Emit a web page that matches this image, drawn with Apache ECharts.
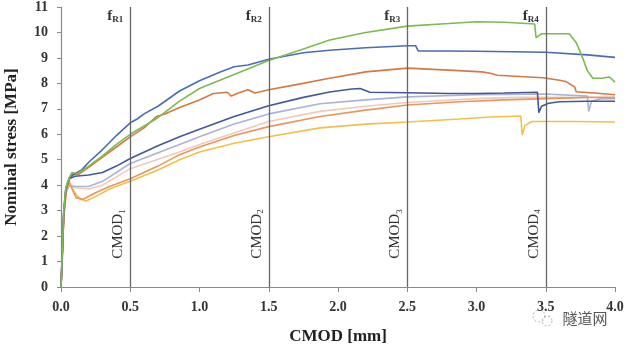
<!DOCTYPE html>
<html>
<head>
<meta charset="utf-8">
<script src="https://cdn.jsdelivr.net/npm/echarts@6/dist/echarts.min.js"></script>
<style>html,body{margin:0;padding:0;background:#fff}#c{width:627px;height:345px}</style>
</head>
<body>
<div id="c"></div>
<script>
// ---- data (CMOD [mm], nominal stress [MPa]) ----
const xTicks = [0, 0.5, 1.0, 1.5, 2.0, 2.5, 3.0, 3.5, 4.0];
const yTicks = [0,1,2,3,4,5,6,7,8,9,10,11];
const cmodLines = [0.5, 1.5, 2.5, 3.5];
const cmodNames = ['1', '2', '3', '4'];

const greenCurve = [[0,0],[0.01,1.5],[0.02,3.0],[0.035,3.9],[0.06,4.3],[0.08,4.5],[0.12,4.45],[0.2,4.75],[0.3,5.15],[0.4,5.6],[0.5,6.0],[0.7,6.65],[0.856,7.3],[1.0,7.8],[1.25,8.35],[1.5,8.9],[1.75,9.35],[1.94,9.7],[2.2,10.0],[2.5,10.25],[2.8,10.35],[3.0,10.42],[3.2,10.4],[3.3,10.37],[3.42,10.33],[3.43,9.8],[3.47,9.95],[3.6,9.95],[3.67,9.95],[3.72,9.6],[3.76,9.1],[3.8,8.5],[3.84,8.2],[3.9,8.2],[3.96,8.25],[4.0,8.05]];
const blueTopCurve = [[0,0],[0.01,1.5],[0.02,3.0],[0.035,3.9],[0.06,4.3],[0.1,4.45],[0.15,4.6],[0.2,4.9],[0.3,5.4],[0.4,5.95],[0.5,6.45],[0.55,6.6],[0.6,6.8],[0.7,7.1],[0.856,7.7],[1.0,8.1],[1.15,8.45],[1.25,8.65],[1.35,8.72],[1.5,8.95],[1.75,9.2],[1.94,9.3],[2.2,9.4],[2.5,9.48],[2.56,9.48],[2.58,9.27],[2.8,9.27],[3.0,9.26],[3.5,9.22],[3.8,9.12],[4.0,9.02]];
const orangeCurve = [[0,0],[0.01,1.4],[0.02,2.9],[0.035,3.8],[0.06,4.25],[0.08,4.45],[0.12,4.4],[0.2,4.7],[0.3,5.1],[0.4,5.5],[0.5,5.9],[0.6,6.25],[0.69,6.7],[0.75,6.8],[0.856,7.05],[1.0,7.35],[1.1,7.6],[1.2,7.65],[1.23,7.5],[1.28,7.62],[1.35,7.75],[1.4,7.62],[1.5,7.75],[1.7,7.95],[1.94,8.2],[2.2,8.45],[2.5,8.6],[2.8,8.52],[3.04,8.45],[3.1,8.4],[3.15,8.32],[3.48,8.22],[3.6,8.12],[3.65,8.06],[3.71,7.85],[3.72,7.67],[3.85,7.62],[4.0,7.55]];
const darkBlueCurve = [[0,0],[0.01,1.4],[0.02,2.9],[0.035,3.8],[0.06,4.25],[0.1,4.35],[0.2,4.4],[0.3,4.5],[0.4,4.75],[0.5,5.05],[0.7,5.55],[0.856,5.9],[1.0,6.2],[1.25,6.7],[1.5,7.12],[1.75,7.45],[1.94,7.66],[2.1,7.78],[2.16,7.8],[2.23,7.65],[2.5,7.63],[2.8,7.6],[3.0,7.6],[3.2,7.62],[3.44,7.65],[3.45,6.85],[3.47,7.1],[3.52,7.22],[3.6,7.28],[3.8,7.3],[4.0,7.3]];
const greyBlueCurve = [[0,0],[0.01,1.3],[0.02,2.8],[0.035,3.7],[0.06,4.0],[0.1,3.95],[0.2,3.95],[0.3,4.15],[0.5,4.85],[0.856,5.6],[1.0,5.9],[1.25,6.4],[1.5,6.8],[1.87,7.2],[2.2,7.35],[2.5,7.47],[3.0,7.55],[3.5,7.58],[3.8,7.5],[3.81,6.9],[3.83,7.3],[3.9,7.4],[4.0,7.4]];
const palePinkCurve = [[0,0],[0.01,1.3],[0.02,2.8],[0.035,3.7],[0.06,4.0],[0.1,3.9],[0.2,3.85],[0.3,4.0],[0.5,4.65],[0.856,5.3],[1.0,5.6],[1.5,6.5],[1.87,6.9],[2.2,7.1],[2.5,7.25],[3.0,7.4],[3.3,7.45],[3.5,7.45],[3.7,7.45]];
const salmonCurve = [[0,0],[0.01,1.2],[0.02,2.8],[0.04,3.9],[0.055,4.2],[0.08,3.85],[0.11,3.5],[0.16,3.45],[0.25,3.7],[0.35,3.95],[0.5,4.25],[0.7,4.75],[0.856,5.2],[1.0,5.5],[1.25,5.95],[1.5,6.3],[1.87,6.7],[2.2,6.95],[2.5,7.15],[2.88,7.28],[3.2,7.35],[3.5,7.4],[3.8,7.45],[4.0,7.45]];
const yellowCurve = [[0,0],[0.01,1.2],[0.02,2.7],[0.04,3.8],[0.06,4.1],[0.1,3.7],[0.14,3.45],[0.18,3.38],[0.25,3.55],[0.35,3.85],[0.5,4.15],[0.7,4.6],[0.856,5.0],[1.0,5.3],[1.25,5.65],[1.5,5.9],[1.87,6.25],[2.2,6.4],[2.5,6.48],[2.88,6.6],[3.1,6.68],[3.32,6.72],[3.33,5.97],[3.35,6.35],[3.4,6.5],[3.7,6.5],[4.0,6.48]];

const curves = [
  {data: palePinkCurve, color: '#efc9bb'},
  {data: greyBlueCurve, color: '#aab3d3'},
  {data: yellowCurve, color: '#f2c04a'},
  {data: salmonCurve, color: '#e8955e'},
  {data: darkBlueCurve, color: '#41599b'},
  {data: orangeCurve, color: '#d27a42'},
  {data: blueTopCurve, color: '#4a6cb4'},
  {data: greenCurve, color: '#7cbb50'}
];

const SERIF = '"Liberation Serif","Times New Roman",serif';
const chart = echarts.init(document.getElementById('c'), null, {renderer: 'canvas'});

const series = curves.map(c => ({
  type: 'line', data: c.data, showSymbol: false, symbol: 'none',
  lineStyle: {color: c.color, width: 1.6}, itemStyle: {color: c.color},
  animation: false, z: 3
}));
series.push({
  type: 'line', data: [], silent: true,
  markLine: {
    symbol: 'none', silent: true, animation: false,
    lineStyle: {color: '#666', width: 1.3, type: 'solid'},
    label: {show: false},
    data: cmodLines.map(v => ({xAxis: v}))
  }
});

chart.setOption({
  animation: false,
  grid: {left: 61, right: 12, top: 7, bottom: 58, containLabel: false, outerBoundsMode: 'none'},
  xAxis: {
    type: 'value', min: 0, max: 4, interval: 0.5,
    name: 'CMOD [mm]', nameLocation: 'middle', nameGap: 41,
    nameTextStyle: {fontFamily: SERIF, fontWeight: 'bold', fontSize: 17, color: '#222'},
    axisLine: {lineStyle: {color: '#8a8a8a', width: 1.2}},
    axisTick: {show: true, inside: false, length: 5, lineStyle: {color: '#8a8a8a'}},
    axisLabel: {fontFamily: SERIF, fontWeight: 'bold', fontSize: 14, color: '#333', margin: 13,
      formatter: v => v.toFixed(1)},
    splitLine: {show: false}
  },
  yAxis: {
    type: 'value', min: 0, max: 11, interval: 1,
    name: 'Nominal stress [MPa]', nameLocation: 'middle', nameGap: 41,
    nameTextStyle: {fontFamily: SERIF, fontWeight: 'bold', fontSize: 17, color: '#222'},
    axisLine: {show: true, lineStyle: {color: '#8a8a8a', width: 1.2}},
    axisTick: {show: true, inside: false, length: 4, lineStyle: {color: '#8a8a8a'}},
    axisLabel: {fontFamily: SERIF, fontWeight: 'bold', fontSize: 14, color: '#333', margin: 13},
    splitLine: {show: false}
  },
  series: series
});

// labels positioned through the chart's own scales
const g = [];
cmodLines.forEach((v, i) => {
  const top = chart.convertToPixel({xAxisIndex: 0, yAxisIndex: 0}, [v, 11]);
  const mid = chart.convertToPixel({xAxisIndex: 0, yAxisIndex: 0}, [v, 2.0]);
  g.push({
    type: 'text', x: top[0] - 7, y: top[1] + 9, z: 10,
    style: {
      text: '{f|f}{s|R' + cmodNames[i] + '}', align: 'right', verticalAlign: 'middle',
      rich: {
        f: {fontFamily: SERIF, fontSize: 15, fill: '#333', fontWeight: 'bold'},
        s: {fontFamily: SERIF, fontSize: 9, fill: '#333', fontWeight: 'bold', padding: [7, 0, 0, 0]}
      }
    }
  });
  g.push({
    type: 'text', x: mid[0] - 12, y: mid[1] - 2, rotation: Math.PI / 2, z: 10,
    style: {
      text: '{c|CMOD}{s|' + cmodNames[i] + '}', align: 'center', verticalAlign: 'middle',
      rich: {
        c: {fontFamily: SERIF, fontSize: 15, fill: '#333'},
        s: {fontFamily: SERIF, fontSize: 9, fill: '#333', padding: [8, 0, 0, 0]}
      }
    }
  });
});
// watermark
g.push({type: 'circle', shape: {cx: 539, cy: 316, r: 6}, style: {fill: 'none', stroke: '#aaa', lineWidth: 1, lineDash: [2, 2]}});
g.push({type: 'circle', shape: {cx: 547, cy: 321, r: 5}, style: {fill: 'none', stroke: '#aaa', lineWidth: 1, lineDash: [2, 2]}});
g.push({type: 'text', x: 585, y: 318, style: {text: '隧道网', align: 'center', verticalAlign: 'middle',
  fontFamily: '"Noto Sans CJK SC",sans-serif', fontSize: 15, fill: '#555'}});
chart.setOption({graphic: g});
</script>
</body>
</html>
